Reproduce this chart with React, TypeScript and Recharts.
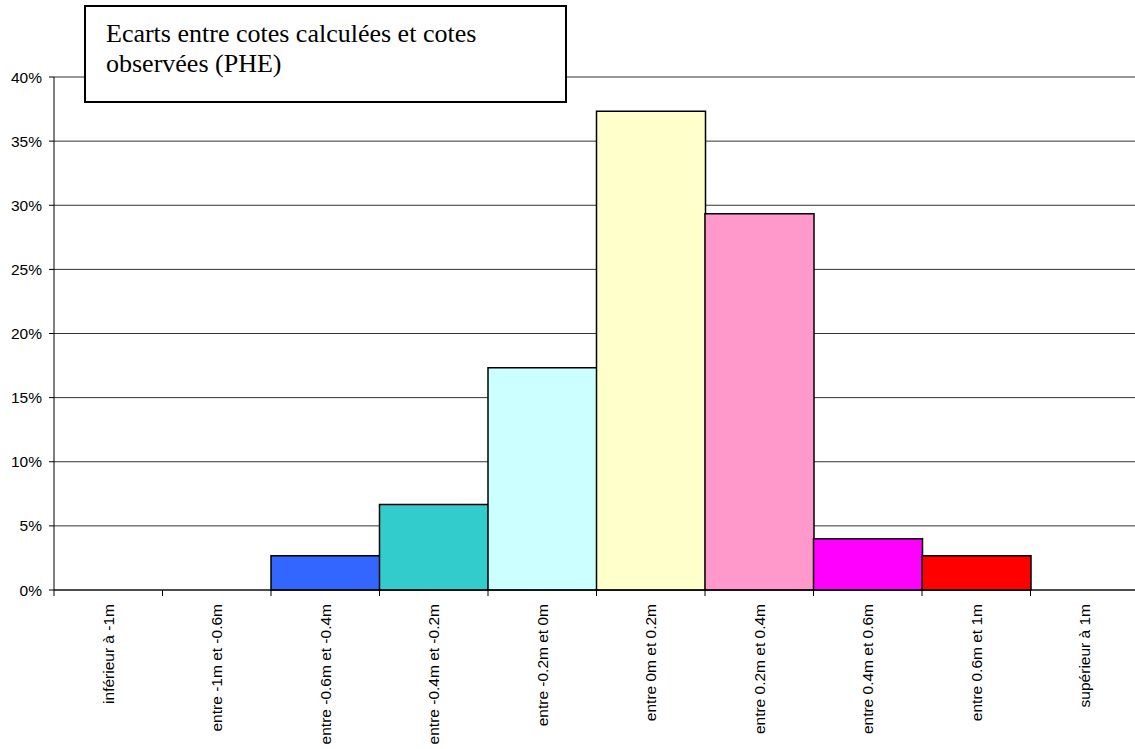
import { BarChart, Bar, XAxis, YAxis, CartesianGrid, Cell } from 'recharts';

const categories = [
  'inférieur à -1m',
  'entre -1m et -0.6m',
  'entre -0.6m et -0.4m',
  'entre -0.4m et -0.2m',
  'entre -0.2m et 0m',
  'entre 0m et 0.2m',
  'entre 0.2m et 0.4m',
  'entre 0.4m et 0.6m',
  'entre 0.6m et 1m',
  'supérieur à 1m',
];

// share of points per class, in %
const shares = [0, 0, 2.67, 6.67, 17.33, 37.33, 29.33, 4, 2.67, 0];

const barColors = [
  '#3366FF', '#3366FF', '#3366FF', '#33CCCC', '#CCFFFF',
  '#FFFFCC', '#FF99CC', '#FF00FF', '#FF0000', '#FF0000',
];

const yTicks = [0, 5, 10, 15, 20, 25, 30, 35, 40];

const data = categories.map((name, i) => ({ name, share: shares[i] }));

const CHART_W = 1150;
const CHART_H = 749;
const MARGIN = { top: 77, right: 11, left: 0, bottom: 0 };
const Y_AXIS_W = 54;
const X_AXIS_H = 159;
const BAND = (CHART_W - MARGIN.left - MARGIN.right - Y_AXIS_W) / categories.length;
const TICK_SIZE = 6;
const TICK_MARGIN = 8;

function CategoryTick(props: any) {
  const { x, y, payload, index } = props;
  const axisY = y - TICK_SIZE - TICK_MARGIN;
  const left = x - BAND / 2;
  return (
    <g>
      <line x1={left} y1={axisY} x2={left} y2={axisY + TICK_SIZE} stroke="#000" />
      {index === categories.length - 1 && (
        <line x1={x + BAND / 2} y1={axisY} x2={x + BAND / 2} y2={axisY + TICK_SIZE} stroke="#000" />
      )}
      <text
        x={x}
        y={y}
        dy="0.35em"
        textAnchor="end"
        transform={`rotate(-90, ${x}, ${y})`}
        fill="#000"
        fontSize={15.5}
        fontFamily="'Liberation Sans', Arial, sans-serif"
      >
        {payload.value}
      </text>
    </g>
  );
}

export default function App() {
  return (
    <div
      style={{
        position: 'absolute',
        left: 0,
        top: 0,
        width: 1135,
        height: 749,
        overflow: 'hidden',
        background: '#fff',
      }}
    >
      <BarChart
        width={CHART_W}
        height={CHART_H}
        data={data}
        margin={MARGIN}
        barCategoryGap={0}
        barGap={0}
      >
        <CartesianGrid vertical={false} stroke="#333" />
        <XAxis
          dataKey="name"
          interval={0}
          height={X_AXIS_H}
          stroke="#000"
          tickLine={false}
          tickSize={TICK_SIZE}
          tickMargin={TICK_MARGIN}
          tick={<CategoryTick />}
        />
        <YAxis
          width={Y_AXIS_W}
          domain={[0, 40]}
          ticks={yTicks}
          tickFormatter={(v) => `${v}%`}
          stroke="#000"
          tickSize={5}
          tickMargin={7}
          tick={{ fill: '#000', fontSize: 15.5, fontFamily: "'Liberation Sans', Arial, sans-serif" }}
        />
        <Bar dataKey="share" stroke="#000" strokeWidth={1.5} isAnimationActive={false}>
          {data.map((d, i) => (
            <Cell key={d.name} fill={barColors[i]} />
          ))}
        </Bar>
      </BarChart>
      <div
        style={{
          position: 'absolute',
          left: 84,
          top: 5,
          width: 483,
          height: 98,
          boxSizing: 'border-box',
          border: '2px solid #000',
          background: '#fff',
          padding: '12px 0 0 20px',
          fontFamily: "'Liberation Serif', 'Times New Roman', serif",
          fontSize: 26,
          lineHeight: '30px',
          color: '#000',
          whiteSpace: 'nowrap',
        }}
      >
        Ecarts entre cotes calculées et cotes
        <br />
        observées (PHE)
      </div>
    </div>
  );
}
